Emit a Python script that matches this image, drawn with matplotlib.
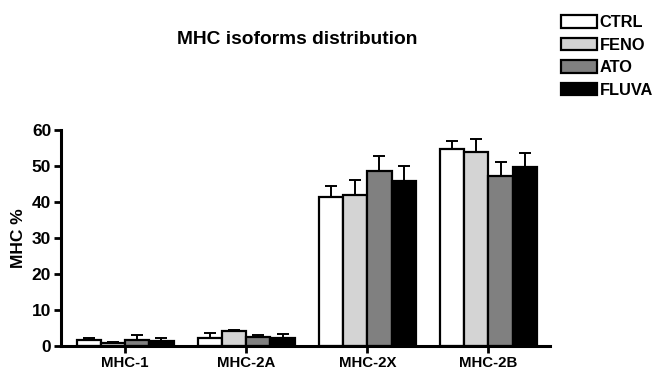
import matplotlib
matplotlib.use("Agg")
import matplotlib.pyplot as plt
import numpy as np

plt.rcParams['font.family'] = ['Liberation Sans', 'DejaVu Sans']

categories = ["MHC-1", "MHC-2A", "MHC-2X", "MHC-2B"]
groups = ["CTRL", "FENO", "ATO", "FLUVA"]
means = {
    "CTRL":  [1.7, 2.3, 41.3, 54.6],
    "FENO":  [1.0, 4.3, 41.9, 53.8],
    "ATO":   [1.7, 2.6, 48.6, 47.3],
    "FLUVA": [1.3, 2.3, 45.7, 49.6],
}
errors = {
    "CTRL":  [0.6, 1.3, 3.0, 2.2],
    "FENO":  [0.2, 0.3, 4.2, 3.8],
    "ATO":   [1.3, 0.5, 4.1, 3.8],
    "FLUVA": [0.9, 1.1, 4.2, 3.9],
}
colors = {"CTRL": "#ffffff", "FENO": "#d4d4d4", "ATO": "#808080", "FLUVA": "#000000"}
yticks = [0, 10, 20, 30, 40, 50, 60]

fig = plt.figure(figsize=(6.55, 3.71), dpi=100)
ax = fig.add_axes([0.093, 0.067, 0.747, 0.583])

x = np.arange(len(categories))
w = 0.2
handles = []
for i, g in enumerate(groups):
    pos = x + (i - 1.5) * w
    b = ax.bar(pos, means[g], width=w, color=colors[g], edgecolor="black",
               linewidth=1.6, label=g, zorder=2)
    ax.errorbar(pos, means[g], yerr=[np.zeros(len(categories)), errors[g]],
                fmt="none", ecolor="black", elinewidth=1.4, capsize=4,
                capthick=1.4, zorder=1)
    handles.append(b)

ax.set_xlim(-0.53, 3.51)
ax.set_ylim(0, 60)
ax.set_yticks(yticks)
ax.set_xticks(x)
ax.set_xticklabels(categories, fontsize=10.8, fontweight="bold")
ax.set_yticklabels([str(t) for t in yticks], fontsize=12.5, fontweight="bold")
ax.set_ylabel("MHC %", fontsize=12.5, fontweight="bold", labelpad=4)
for s in ["top", "right"]:
    ax.spines[s].set_visible(False)
for s in ["left", "bottom"]:
    ax.spines[s].set_linewidth(2.2)
ax.tick_params(axis="both", width=2, length=5, pad=2)

fig.text(0.453, 0.893, "MHC isoforms distribution", fontsize=13.8,
         fontweight="bold", ha="center", va="center")

fig.legend(handles=handles, labels=groups, loc="upper left",
           bbox_to_anchor=(0.842, 0.985), frameon=False,
           prop={"weight": "bold", "size": 11.8},
           handlelength=2.2, handleheight=0.8, handletextpad=0.15,
           labelspacing=0.45, borderaxespad=0.2)

fig.savefig("out.png", dpi=100)
